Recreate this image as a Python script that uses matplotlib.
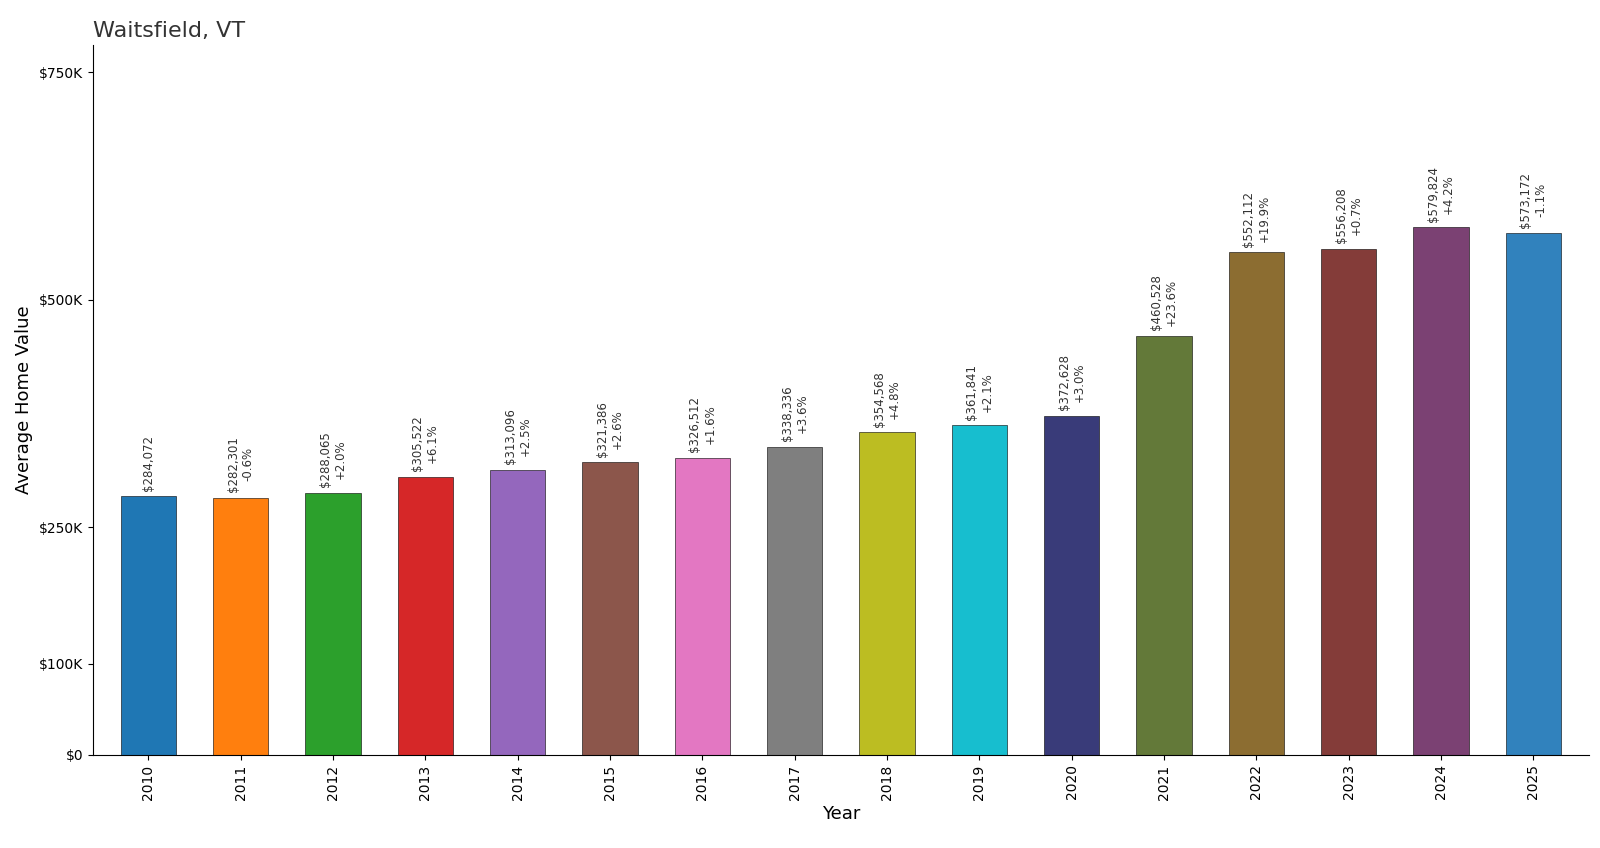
import matplotlib.pyplot as plt
from matplotlib.ticker import FuncFormatter

years = list(range(2010, 2026))
values = [284072, 282301, 288065, 305522, 313096, 321386, 326512, 338336,
          354568, 361841, 372628, 460528, 552112, 556208, 579824, 573172]
changes = [None, '-0.6%', '+2.0%', '+6.1%', '+2.5%', '+2.6%', '+1.6%', '+3.6%',
           '+4.8%', '+2.1%', '+3.0%', '+23.6%', '+19.9%', '+0.7%', '+4.2%', '-1.1%']
colors = ['#1f77b4', '#ff7f0e', '#2ca02c', '#d62728', '#9467bd', '#8c564b',
          '#e377c2', '#7f7f7f', '#bcbd22', '#17becf', '#393b79', '#637939',
          '#8c6d31', '#843c39', '#7b4173', '#3182bd']

fig, ax = plt.subplots(figsize=(16, 8.48), dpi=100)
x = range(len(years))
ax.bar(x, values, width=0.6, color=colors, edgecolor='black', linewidth=0.4)

for i, v in enumerate(values):
    txt = f'${v:,}' if changes[i] is None else f'${v:,}\n{changes[i]}'
    ax.text(i, v + 6000, txt, rotation=90, ha='center', va='bottom', fontsize=8.5, color='#333333')

ax.set_xticks(list(x))
ax.set_xticklabels([str(y) for y in years], rotation=90, fontsize=10)
ax.set_yticks([0, 100000, 250000, 500000, 750000])
ax.yaxis.set_major_formatter(FuncFormatter(lambda v, p: '$0' if v == 0 else f'${int(v/1000)}K'))
ax.tick_params(axis='y', labelsize=10)
ax.set_ylim(0, 780000)
ax.set_xlim(-0.6, len(years) - 0.4)
ax.set_xlabel('Year', fontsize=13)
ax.set_ylabel('Average Home Value', fontsize=13)
ax.set_title('Waitsfield, VT', loc='left', fontsize=16, color='#333333')
ax.spines['top'].set_visible(False)
ax.spines['right'].set_visible(False)
plt.subplots_adjust(left=0.058, right=0.993, top=0.947, bottom=0.11)
plt.savefig('out.png')
